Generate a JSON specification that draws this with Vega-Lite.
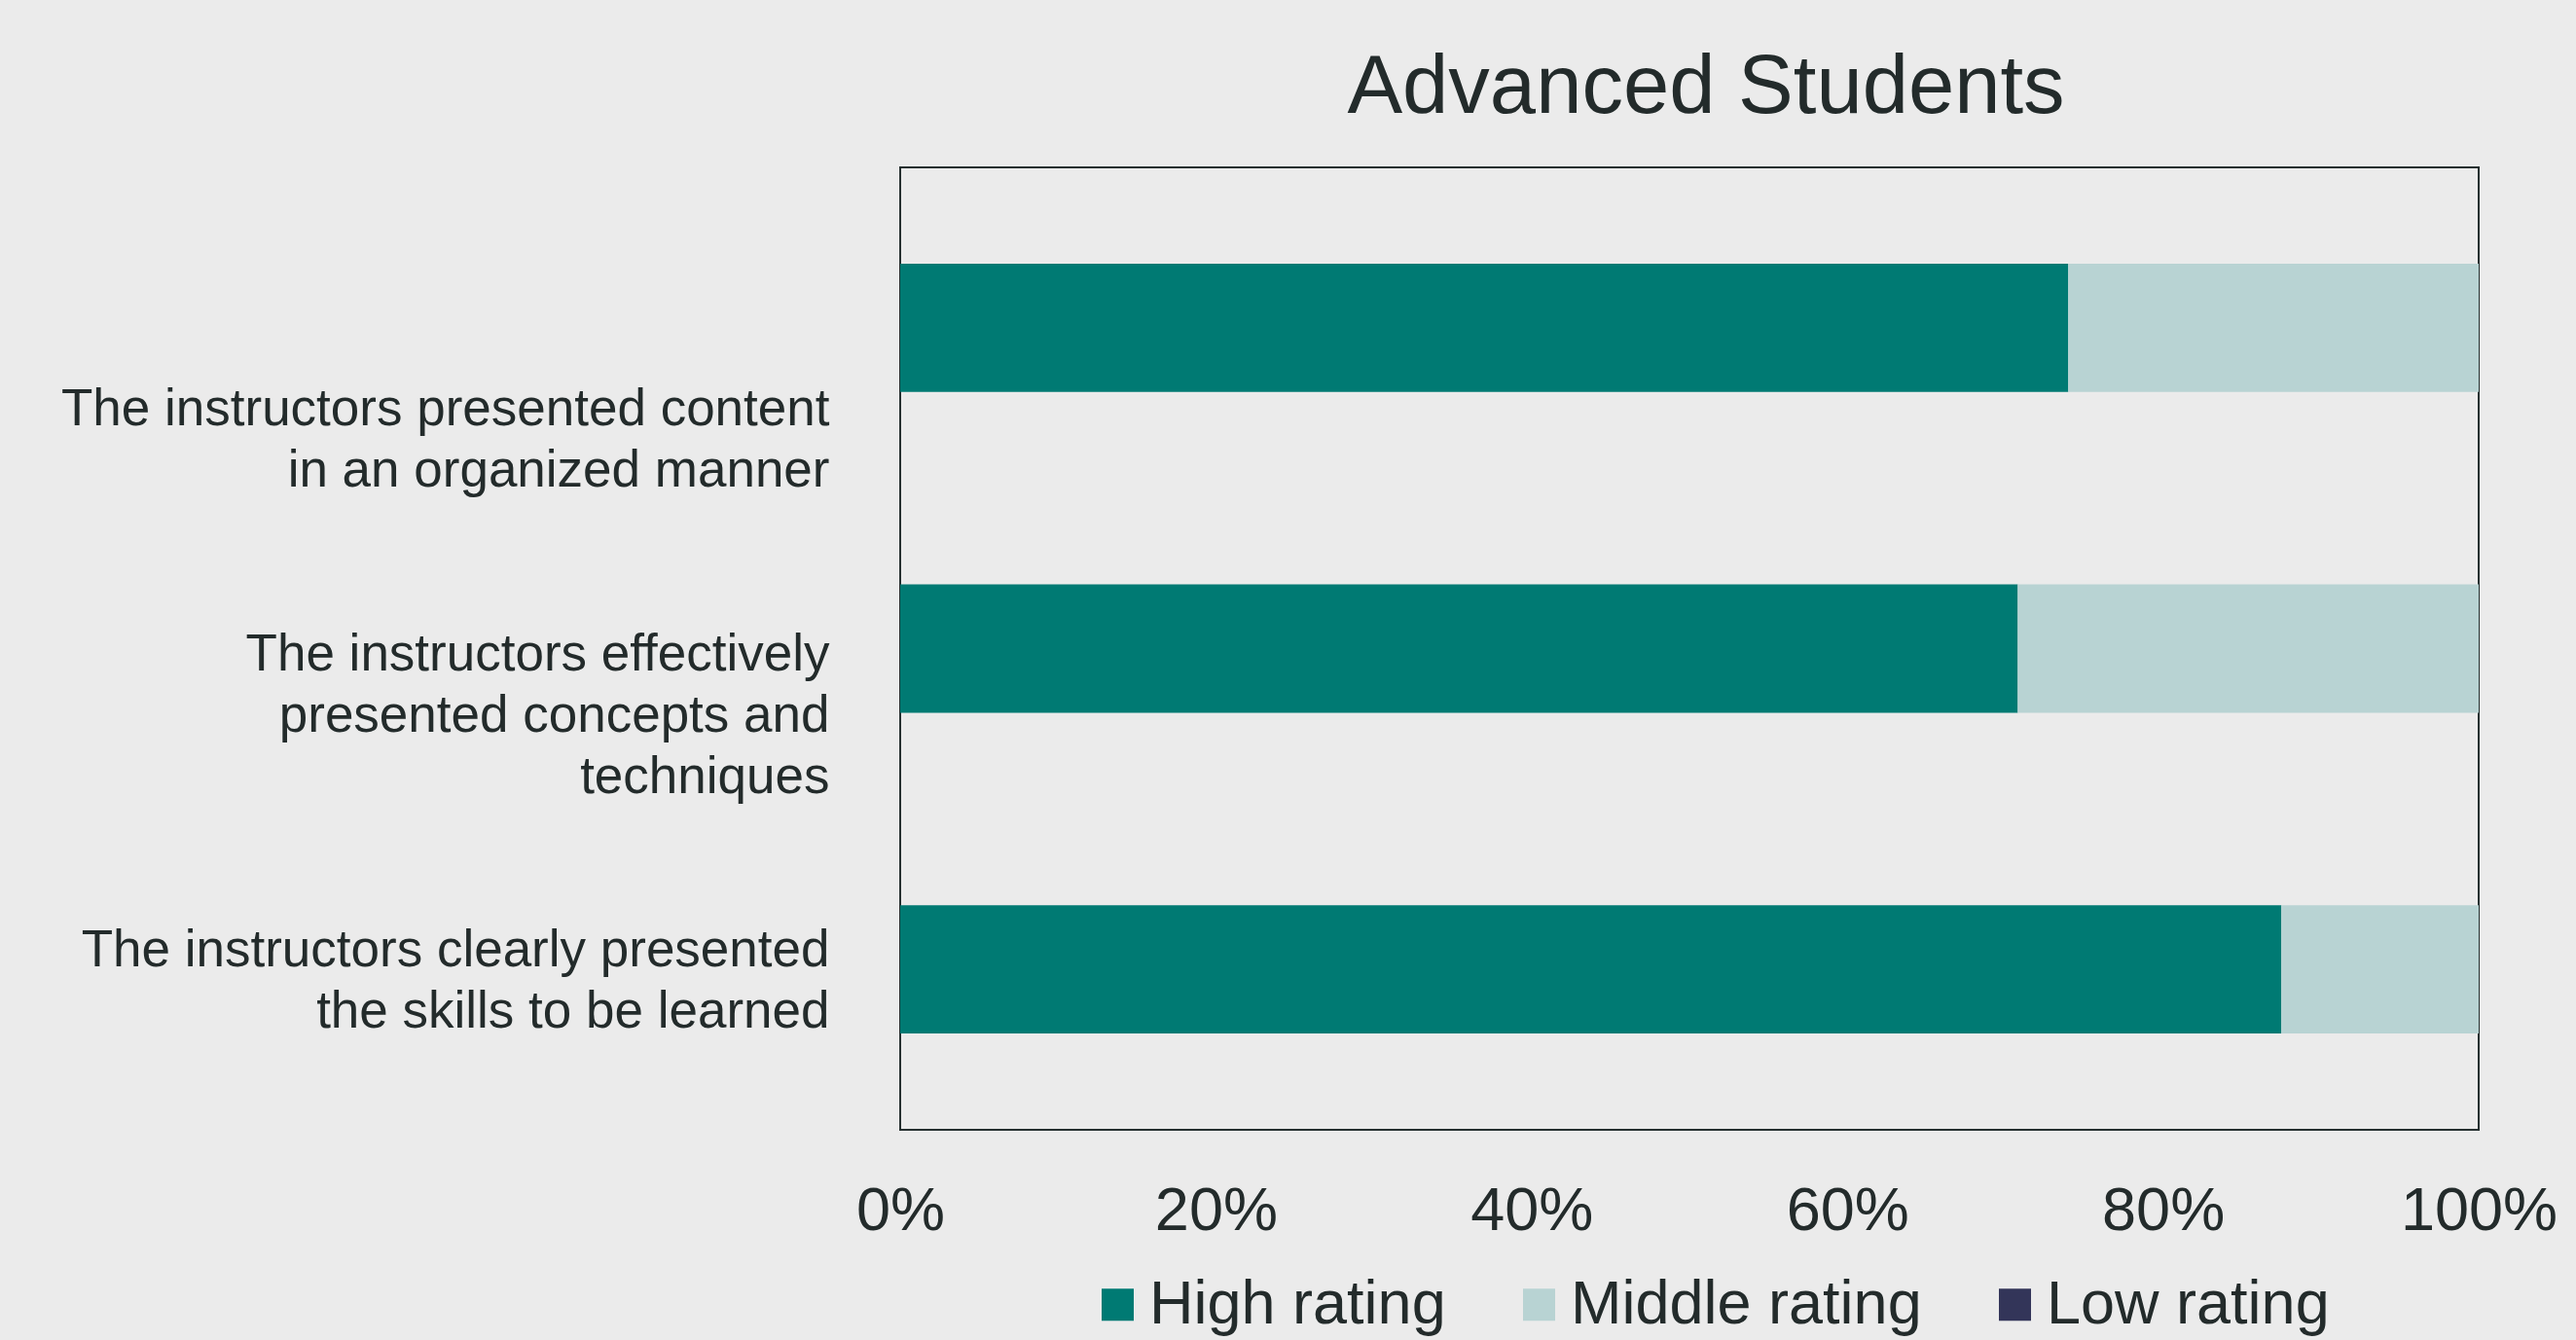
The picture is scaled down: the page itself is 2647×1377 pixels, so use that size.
{
  "$schema": "https://vega.github.io/schema/vega-lite/v6.json",
  "width": 1622,
  "height": 989,
  "autosize": {"type": "none"},
  "padding": {"left": 925, "top": 172, "right": 100, "bottom": 216},
  "background": "#EBEBEB",
  "title": {
    "text": "Advanced Students",
    "fontSize": 85,
    "font": "Liberation Sans",
    "fontWeight": "normal",
    "color": "#232B2B",
    "anchor": "middle",
    "frame": "group",
    "baseline": "alphabetic",
    "offset": 56,
    "dx": 17,
    "dy": 85
  },
  "data": {
    "values": [
      {"item": "The instructors presented content|in an organized manner", "pos": 1, "rating": "High rating", "rank": 1, "share": 0.740},
      {"item": "The instructors presented content|in an organized manner", "pos": 1, "rating": "Middle rating", "rank": 2, "share": 0.260},
      {"item": "The instructors presented content|in an organized manner", "pos": 1, "rating": "Low rating", "rank": 3, "share": 0.0},
      {"item": "The instructors effectively|presented concepts and|techniques", "pos": 2, "rating": "High rating", "rank": 1, "share": 0.708},
      {"item": "The instructors effectively|presented concepts and|techniques", "pos": 2, "rating": "Middle rating", "rank": 2, "share": 0.292},
      {"item": "The instructors effectively|presented concepts and|techniques", "pos": 2, "rating": "Low rating", "rank": 3, "share": 0.0},
      {"item": "The instructors clearly presented|the skills to be learned", "pos": 3, "rating": "High rating", "rank": 1, "share": 0.875},
      {"item": "The instructors clearly presented|the skills to be learned", "pos": 3, "rating": "Middle rating", "rank": 2, "share": 0.125},
      {"item": "The instructors clearly presented|the skills to be learned", "pos": 3, "rating": "Low rating", "rank": 3, "share": 0.0}
    ]
  },
  "mark": {"type": "bar"},
  "encoding": {
    "y": {
      "field": "item",
      "type": "nominal",
      "sort": {"field": "pos", "op": "min", "order": "ascending"},
      "scale": {"paddingInner": 0.6, "paddingOuter": 0.3},
      "axis": {
        "title": null,
        "domain": false,
        "ticks": false,
        "labelPadding": 73,
        "labelFontSize": 53,
        "labelFont": "Liberation Sans",
        "labelColor": "#232B2B",
        "labelLimit": 1200,
        "labelLineHeight": 63,
        "labelExpr": "split(datum.label, '|')",
        "labelOffset": {
          "condition": [
            {"test": "datum.value == 'The instructors presented content|in an organized manner'", "value": 84},
            {"test": "datum.value == 'The instructors effectively|presented concepts and|techniques'", "value": 6}
          ],
          "value": -19
        }
      }
    },
    "x": {
      "field": "share",
      "type": "quantitative",
      "stack": "zero",
      "scale": {"domain": [0, 1], "nice": false},
      "axis": {
        "title": null,
        "format": ".0%",
        "values": [0, 0.2, 0.4, 0.6, 0.8, 1],
        "grid": false,
        "domain": false,
        "ticks": false,
        "labelPadding": 52,
        "labelFontSize": 63,
        "labelFont": "Liberation Sans",
        "labelColor": "#232B2B",
        "labelFlush": false,
        "labelOverlap": false,
        "labelBound": false
      }
    },
    "color": {
      "field": "rating",
      "type": "nominal",
      "scale": {
        "domain": ["High rating", "Middle rating", "Low rating"],
        "range": ["#007A73", "#B8D3D3", "#333559"]
      },
      "legend": {
        "title": null,
        "orient": "none",
        "legendX": 192,
        "legendY": 1137,
        "direction": "horizontal",
        "symbolType": "square",
        "symbolSize": 1089,
        "symbolStrokeWidth": 0,
        "symbolOpacity": 1,
        "labelFontSize": 63,
        "labelFont": "Liberation Sans",
        "labelColor": "#232B2B",
        "labelOffset": 1,
        "columnPadding": 64,
        "labelLimit": 600,
        "padding": 0
      }
    },
    "order": {"field": "rank", "type": "quantitative"}
  },
  "config": {
    "view": {"stroke": "#263030", "strokeWidth": 2, "fill": null},
    "font": "Liberation Sans"
  }
}
